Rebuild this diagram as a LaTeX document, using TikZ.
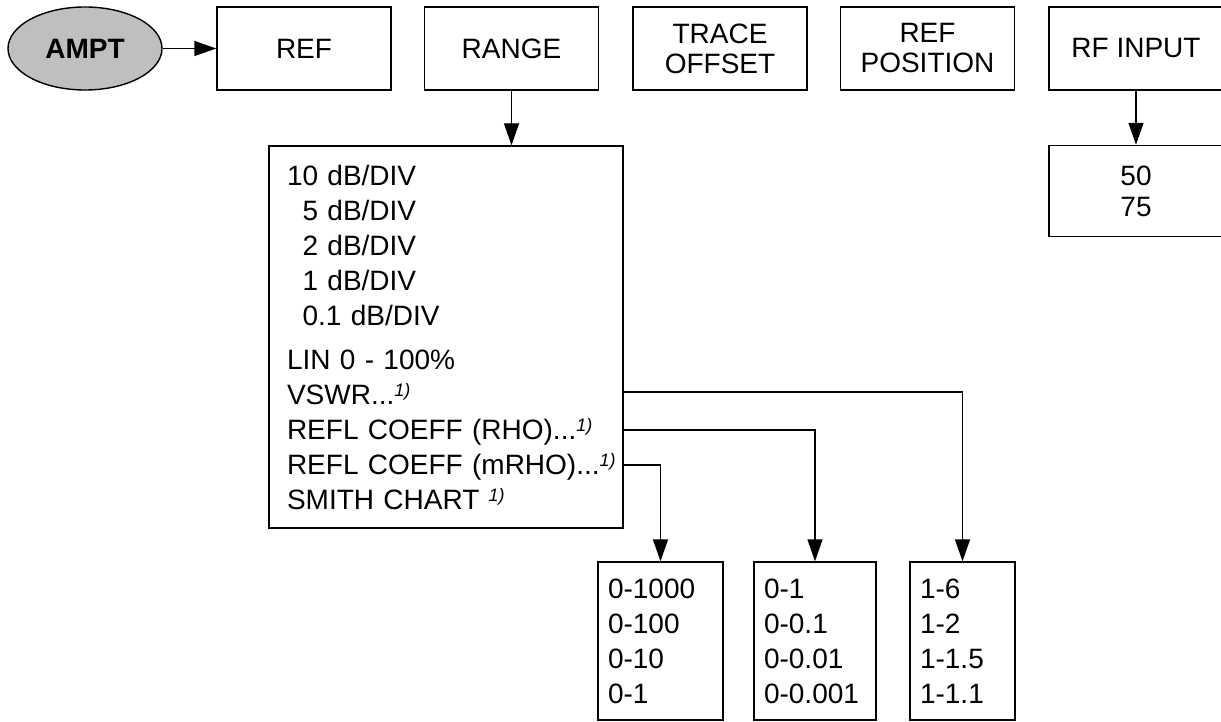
\documentclass[tikz,border=0pt]{standalone}
\usepackage{fontspec}
\setmainfont{Liberation Sans}
\usetikzlibrary{arrows.meta,shapes.geometric}

\tikzset{
  menu/.style={draw, line width=1.4pt, minimum width=174pt, minimum height=83pt,
    align=center, inner sep=0pt, font=\fontsize{28}{30}\selectfont},
  list/.style={draw, line width=1.4pt, align=left, inner ysep=0pt,
    inner xsep=10pt, minimum height=158pt, font=\fontsize{28}{35}\selectfont},
  link/.style={line width=1.4pt, -{Triangle[length=22pt,width=15pt]}},
}
\newcommand{\note}{\raisebox{8pt}{\fontsize{18}{18}\selectfont\itshape 1)}}

\begin{document}
\begin{tikzpicture}[x=1pt, y=-1pt]
  \useasboundingbox (0,0) rectangle (1221,722);
  \clip (0,0) rectangle (1221,722);

  \node[ellipse, draw, line width=1.4pt, fill=gray!50, minimum width=154pt,
    minimum height=83pt, inner sep=0pt, font=\fontsize{28}{30}\selectfont\bfseries]
    (ampt) at (85,48.5) {AMPT};

  \node[menu] (ref) at (304,48.5) {REF};
  \node[menu] (range) at (511.5,48.5) {RANGE};
  \node[menu] (offset) at (720,48.5) {TRACE\\OFFSET};
  \node[menu] (refpos) at (927.5,48.5) {REF\\POSITION};
  \node[menu] (rfin) at (1136,48.5) {RF INPUT};
  \node[menu, minimum height=91pt, font=\fontsize{28}{31}\selectfont]
    (imped) at (1136,191) {50\\75};

  \node[list, text width=318pt, inner xsep=18pt, minimum height=382pt]
    (scale) at (446,337) {10 dB/DIV\\
    \hphantom{1}5 dB/DIV\\
    \hphantom{1}2 dB/DIV\\
    \hphantom{1}1 dB/DIV\\
    \hphantom{1}0.1 dB/DIV\\[9pt]
    LIN 0 - 100\%\\
    VSWR...\note\\
    REFL COEFF (RHO)...\note\\
    \mbox{REFL COEFF (mRHO)...\note}\\
    SMITH CHART \note};

  \node[list, text width=105pt] (mrho) at (660.5,641) {0-1000\\0-100\\0-10\\0-1};
  \node[list, text width=102pt] (rho) at (815,641) {0-1\\0-0.1\\0-0.01\\0-0.001};
  \node[list, text width=85pt] (vswr) at (962.5,641) {1-6\\1-2\\1-1.5\\1-1.1};

  \coordinate (vswrout) at (623,392);
  \coordinate (rhoout) at (623,430);
  \coordinate (mrhoout) at (623,465);

  \draw[link] (ampt) -- (ref);
  \draw[link] (range.south) -- (range.south |- scale.north);
  \draw[link] (rfin) -- (imped);
  \draw[link] (vswrout) -| (vswr.north);
  \draw[link] (rhoout) -| (rho.north);
  \draw[link] (mrhoout) -| (mrho.north);
\end{tikzpicture}
\end{document}
